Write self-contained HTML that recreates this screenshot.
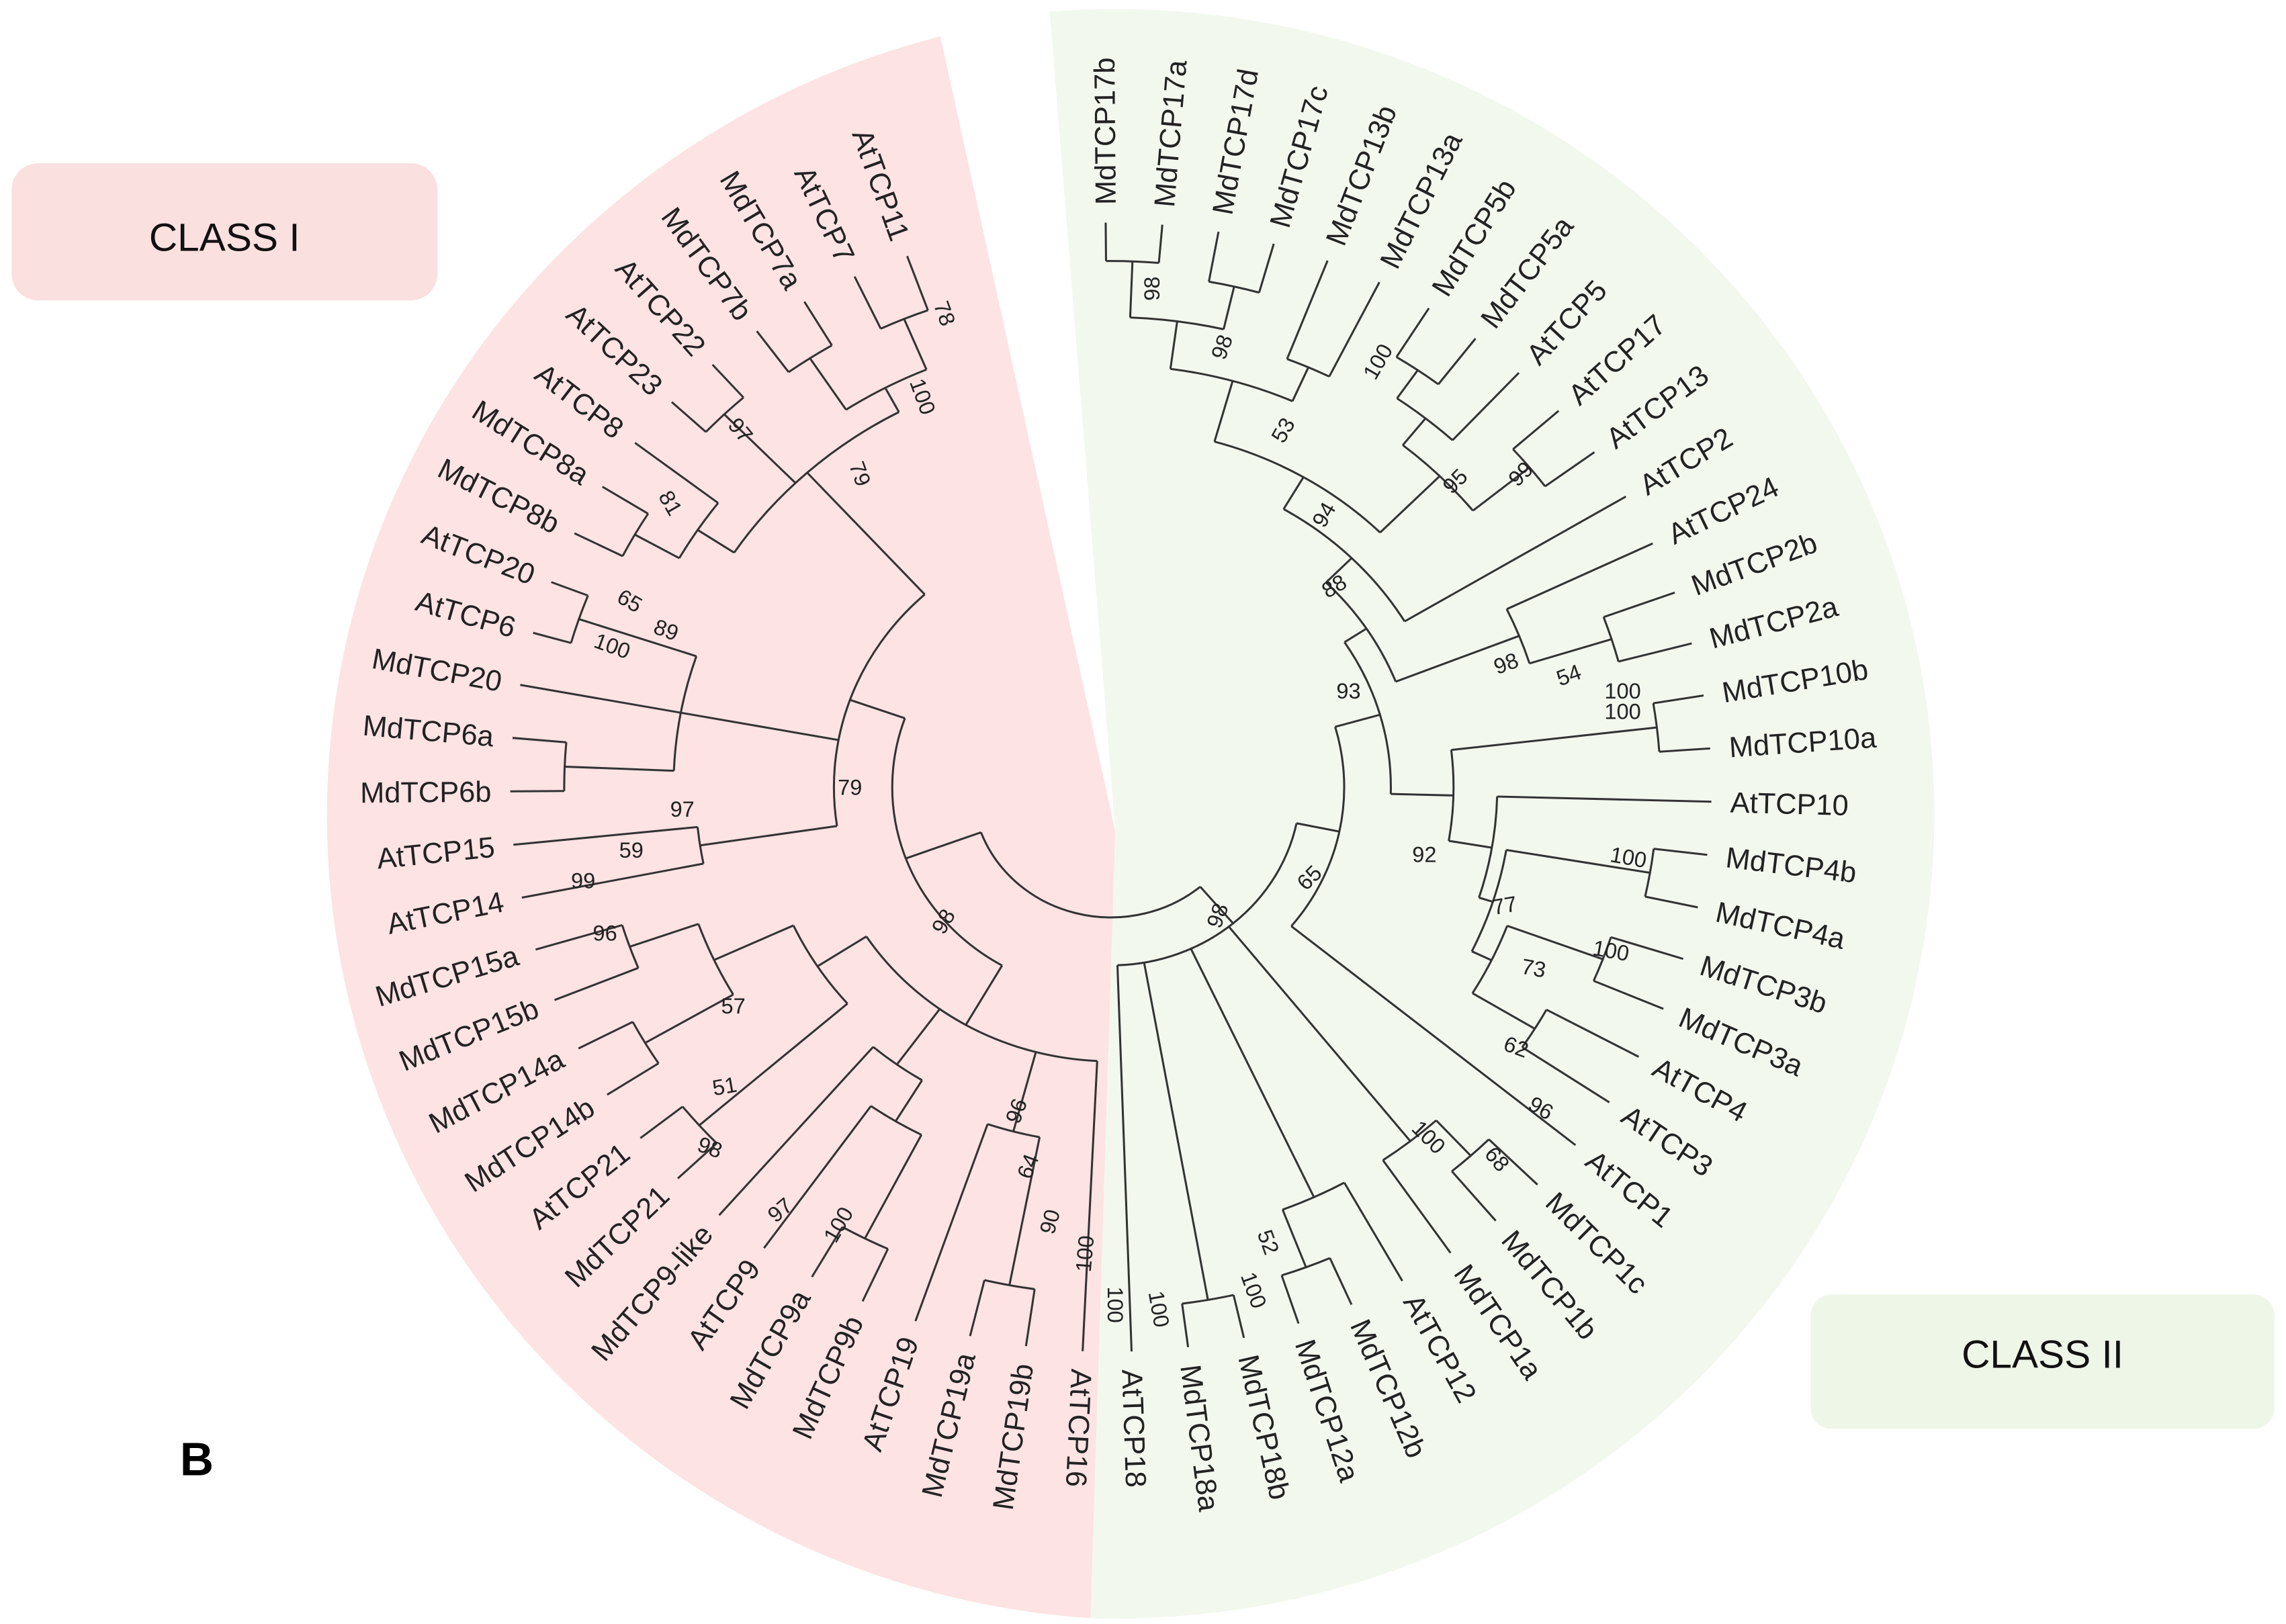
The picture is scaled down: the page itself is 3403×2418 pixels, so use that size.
<!DOCTYPE html>
<html><head><meta charset="utf-8"><style>
html,body{margin:0;padding:0;background:#fff;}
svg{display:block;}
text{font-family:"Liberation Sans",sans-serif;}
</style></head><body>
<svg id="chart" width="3403" height="2418" viewBox="0 0 1568 1114" preserveAspectRatio="none" xmlns="http://www.w3.org/2000/svg">
<path d="M 748 1110 A 562 552 0 0 1 645 25 L 765 570 Z" fill="#fde3e3"/>
<path d="M 720 8 A 562 552 0 1 1 748 1110 L 765 570 Z" fill="#f2f8ee"/>
<g>
<rect x="8" y="112" width="292" height="94" rx="18" fill="#fbe0e0"/>
<text x="154" y="165" font-size="27" text-anchor="middle" fill="#111" dominant-baseline="middle">CLASS I</text>
</g>
<g>
<rect x="1242" y="888" width="318" height="92" rx="14" fill="#eef6e8"/>
<text x="1401" y="931" font-size="27" text-anchor="middle" fill="#111" dominant-baseline="middle">CLASS II</text>
</g>
<text x="135" y="1012" font-size="32" font-weight="bold" text-anchor="middle" fill="#000">B</text>
<g id="tree" stroke="#333" stroke-width="1.4" fill="none"></g>
<g id="leaves" font-size="20" fill="#222"></g>
<g id="boots" font-size="15" fill="#222"></g>
</svg>
<script>
const classILeaves = ["AtTCP16","MdTCP19b","MdTCP19a","AtTCP19","MdTCP9b","MdTCP9a","AtTCP9","MdTCP9-like","MdTCP21","AtTCP21","MdTCP14b","MdTCP14a","MdTCP15b","MdTCP15a","AtTCP14","AtTCP15","MdTCP6b","MdTCP6a","MdTCP20","AtTCP6","AtTCP20","MdTCP8b","MdTCP8a","AtTCP8","AtTCP23","AtTCP22","MdTCP7b","MdTCP7a","AtTCP7","AtTCP11"];
const classIILeaves = ["MdTCP17b","MdTCP17a","MdTCP17d","MdTCP17c","MdTCP13b","MdTCP13a","MdTCP5b","MdTCP5a","AtTCP5","AtTCP17","AtTCP13","AtTCP2","AtTCP24","MdTCP2b","MdTCP2a","MdTCP10b","MdTCP10a","AtTCP10","MdTCP4b","MdTCP4a","MdTCP3b","MdTCP3a","AtTCP4","AtTCP3","AtTCP1","MdTCP1c","MdTCP1b","MdTCP1a","AtTCP12","MdTCP12b","MdTCP12a","MdTCP18b","MdTCP18a","AtTCP18"];
const classIStart = 92.7, classIStep = 5.43;
const classIIStart = -90.5, classIIStep = 5.41;
const classITree = {r:150,c:[
 {r:200,c:["AtTCP16",{r:260,c:[{r:370,c:["MdTCP19b","MdTCP19a"]},"AtTCP19"]},
   {r:250,c:[{r:285,c:[{r:370,c:["MdTCP9b","MdTCP9a"]},"AtTCP9"]},"MdTCP9-like"]},
   {r:240,c:[{r:375,c:["MdTCP21","AtTCP21"]},{r:300,c:[{r:370,c:["MdTCP14b","MdTCP14a"]},{r:350,c:["MdTCP15b","MdTCP15a"]}]}]}]},
 {r:190,c:[{r:285,c:["AtTCP14","AtTCP15"]},
   {r:300,c:[{r:375,c:["MdTCP6b","MdTCP6a"]},"MdTCP20",{r:385,c:["AtTCP6","AtTCP20"]}]},
   {r:310,c:[{r:340,c:[{r:375,c:["MdTCP8b","MdTCP8a"]},"AtTCP8"]},{r:380,c:["AtTCP23","AtTCP22"]},
     {r:330,c:[{r:375,c:["MdTCP7b","MdTCP7a"]},{r:370,c:["AtTCP7","AtTCP11"]}]}]}]}]};
const classIITree = {r:130,c:[
 {r:160,c:[{r:192,c:[
   {r:210,c:[{r:235,c:[{r:262,c:[{r:308,c:[{r:343,c:[{r:384,c:["MdTCP17b","MdTCP17a"]},{r:375,c:["MdTCP17d","MdTCP17c"]}]},{r:335,c:["MdTCP13b","MdTCP13a"]}]},
       {r:320,c:[{r:345,c:[{r:370,c:["MdTCP5b","MdTCP5a"]},"AtTCP5"]},{r:370,c:["AtTCP17","AtTCP13"]}]}]},"AtTCP2"]},
     {r:301,c:["AtTCP24",{r:360,c:["MdTCP2b","MdTCP2a"]}]}]},
   {r:235,c:[{r:377,c:["MdTCP10b","MdTCP10a"]},{r:265,c:["AtTCP10",{r:275,c:[{r:375,c:["MdTCP4b","MdTCP4a"]},{r:290,c:[{r:360,c:["MdTCP3b","MdTCP3a"]},{r:340,c:["AtTCP4","AtTCP3"]}]}]}]}]}]},
  "AtTCP1"]},
 {r:330,c:[{r:365,c:["MdTCP1c","MdTCP1b"]},"MdTCP1a"]},
 {r:330,c:["AtTCP12",{r:375,c:["MdTCP12b","MdTCP12a"]}]},
 {r:380,c:["MdTCP18b","MdTCP18a"]},"AtTCP18"]};
const rootTree = {r:95,c:[classIITree,classITree]};
const bootText = ["78","100","79","97","81","65","89","100","79","97","59","99","96","57","51","98","98","97","100","96","64","90","100",
 "98","98","100","53","95","99","94","88","98","54","100","100","93","92","65","98","77","100","100","73","62","96","100","68","52","100","100","100"];
const bootPos = [[648,215,70],[633,272,70],[590,325,70],[508,295,50],[460,345,60],[432,412,30],[457,432,20],[420,443,20],[583,540,0],[468,555,0],[433,583,0],[400,604,0],[415,640,0],[503,690,0],[497,745,-10],[487,787,20],[647,632,-60],[535,830,-40],[575,840,-60],[697,762,-70],[705,800,-70],[720,838,-75],[744,860,-85],
 [790,198,-90],[838,238,-70],[945,248,-60],[880,295,-60],[998,330,-45],[1043,325,-45],[908,353,-60],[915,402,-30],[1033,455,-20],[1076,463,-20],[1113,474,0],[1113,488,0],[925,474,0],[977,586,0],[898,602,-45],[835,628,-70],[1032,621,-10],[1117,588,10],[1105,652,10],[1052,664,10],[1040,718,20],[1057,760,30],[980,780,45],[1027,795,50],[870,852,70],[860,885,70],[795,898,80],[765,895,90]];

const cx=762, cy=540, ky=0.94, LEAF_R=412, LABEL_R=425;
const NS="http://www.w3.org/2000/svg";
const angle={};
classILeaves.forEach((n,i)=>{angle[n]=classIStart+i*classIStep;});
classIILeaves.forEach((n,i)=>{angle[n]=classIIStart+i*classIIStep;});
function pt(a,r){const t=a*Math.PI/180;return [cx+r*Math.cos(t),cy+ky*r*Math.sin(t)];}
const treeG=document.getElementById('tree');
function addPath(d,name){
 const p=document.createElementNS(NS,'path');
 p.setAttribute('d',d);
 
 
 treeG.appendChild(p);
}
function draw(node,parentR){
 if(typeof node==='string'){
  const a=angle[node];const p0=pt(a,parentR),p1=pt(a,LEAF_R);
  addPath(`M${p0[0]} ${p0[1]}L${p1[0]} ${p1[1]}`,'branch-'+node.toLowerCase());
  return a;
 }
 const as=node.c.map(ch=>draw(ch,node.r));
 const amin=Math.min(...as),amax=Math.max(...as);
 const q0=pt(amin,node.r),q1=pt(amax,node.r);
 addPath(`M${q0[0]} ${q0[1]}A${node.r} ${node.r*ky} 0 ${amax-amin>180?1:0} 1 ${q1[0]} ${q1[1]}`,'node-arc');
 const a=(amin+amax)/2;
 if(parentR<node.r){const p0=pt(a,parentR),p1=pt(a,node.r);
  addPath(`M${p0[0]} ${p0[1]}L${p1[0]} ${p1[1]}`,'internal-branch');}
 return a;
}
draw(rootTree,rootTree.r);
const leafG=document.getElementById('leaves');
[...classILeaves,...classIILeaves].forEach(n=>{
 const a=angle[n];const p=pt(a,LABEL_R);
 const t=document.createElementNS(NS,'text');
 const right=Math.cos(a*Math.PI/180)>=-0.05;
 t.setAttribute('x',p[0]);t.setAttribute('y',p[1]);t.setAttribute('dy','0.35em');
 t.setAttribute('text-anchor',right?'start':'end');
 t.setAttribute('transform',`rotate(${right?a:a+180} ${p[0]} ${p[1]})`);
 
 
 t.textContent=n;leafG.appendChild(t);
});
const bootG=document.getElementById('boots');
bootText.forEach((v,i)=>{
 const [x,y,r]=bootPos[i];
 const t=document.createElementNS(NS,'text');
 t.setAttribute('x',x);t.setAttribute('y',y);t.setAttribute('dy','0.35em');
 t.setAttribute('text-anchor','middle');
 t.setAttribute('transform',`rotate(${r} ${x} ${y})`);
 
 
 t.textContent=v;bootG.appendChild(t);
});
</script>
</body></html>
